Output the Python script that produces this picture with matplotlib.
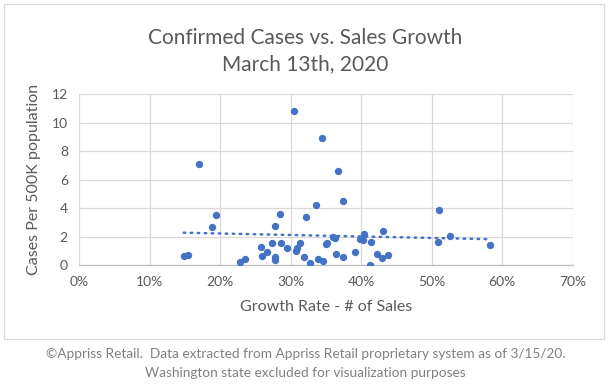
import numpy as np
import matplotlib.pyplot as plt
from matplotlib.patches import Rectangle
from matplotlib.ticker import FuncFormatter

# growth rate (% of sales) vs confirmed cases per 500K
growth = [30.45, 34.4, 17.0, 19.4, 18.8, 14.85, 15.4, 22.8, 23.5, 25.8,
          25.9, 26.6, 27.3, 27.8, 28.5, 27.75, 27.75, 28.6, 29.5, 30.8,
          30.9, 31.4, 31.9, 32.2, 32.7, 33.6, 33.85, 34.6, 35.0, 35.2,
          36.0, 36.3, 36.4, 36.7, 37.4, 37.4, 39.2, 39.9, 40.2, 40.4,
          41.4, 41.2, 42.2, 42.9, 43.8, 43.1, 51.1, 50.9, 52.6, 58.3]
cases = [10.85, 8.95, 7.13, 3.55, 2.71, 0.67, 0.72, 0.23, 0.46, 1.31,
         0.68, 0.91, 1.59, 2.78, 3.62, 0.6, 0.37, 1.59, 1.19, 1.0,
         1.24, 1.59, 0.56, 3.41, 0.18, 4.25, 0.46, 0.32, 1.52, 1.59,
         2.0, 1.92, 0.82, 6.64, 4.53, 0.6, 0.91, 1.82, 1.78, 2.22,
         1.66, 0.05, 0.82, 0.53, 0.72, 2.41, 3.88, 1.66, 2.08, 1.42]

x_ticks = [0, 10, 20, 30, 40, 50, 60, 70]
y_ticks = [0, 2, 4, 6, 8, 10, 12]

blue = '#4472C4'
gray = '#595959'
plt.rcParams['font.family'] = ['Lato', 'DejaVu Sans']

fig = plt.figure(figsize=(6.11, 3.84), dpi=100)
fig.patches.append(Rectangle((4 / 611, 1 - 339 / 384), 600 / 611, 335 / 384,
                             transform=fig.transFigure, fill=False,
                             edgecolor='#d9d9d9', linewidth=0.8))
ax = fig.add_axes([79 / 611, 1 - 265.3 / 384, 493.7 / 611, 171 / 384])

ax.scatter(growth, cases, s=28, color=blue, zorder=3, linewidths=0)

# linear trendline
k, b = np.polyfit(growth, cases, 1)
xf = np.array([min(growth), max(growth)])
ax.plot(xf, k * xf + b, color=blue, linewidth=1.8, linestyle=(0, (0.6, 2.2)),
        dash_capstyle='round', zorder=2)

ax.set_xlim(0, 70)
ax.set_ylim(0, 12)
ax.set_xticks(x_ticks)
ax.set_yticks(y_ticks)
ax.xaxis.set_major_formatter(FuncFormatter(lambda v, p: f'{v:.0f}%'))
ax.grid(True, color='#d9d9d9', linewidth=0.9)
ax.set_axisbelow(True)
for s in ['top', 'right', 'left']:
    ax.spines[s].set_visible(False)
ax.spines['bottom'].set_color('#bfbfbf')
ax.spines['bottom'].set_linewidth(0.9)
ax.tick_params(length=0, labelsize=10, labelcolor=gray, pad=8)

ax.set_xlabel('Growth Rate - # of Sales', fontsize=11.5, color=gray, labelpad=8)
ax.set_ylabel('Cases Per 500K population', fontsize=11.5, color=gray, labelpad=8)

fig.text(0.5, 1 - 38 / 384, 'Confirmed Cases vs. Sales Growth', ha='center',
         va='center', fontsize=15, color=gray)
fig.text(0.5, 1 - 64 / 384, 'March 13th, 2020', ha='center', va='center',
         fontsize=15, color=gray)
fig.text(0.5, 1 - 354 / 384,
         '©Appriss Retail.  Data extracted from Appriss Retail proprietary system as of 3/15/20.',
         ha='center', va='center', fontsize=9.8, color='#808080')
fig.text(0.5, 1 - 373 / 384, 'Washington state excluded for visualization purposes',
         ha='center', va='center', fontsize=9.8, color='#808080')

fig.savefig('out.png', dpi=100)
